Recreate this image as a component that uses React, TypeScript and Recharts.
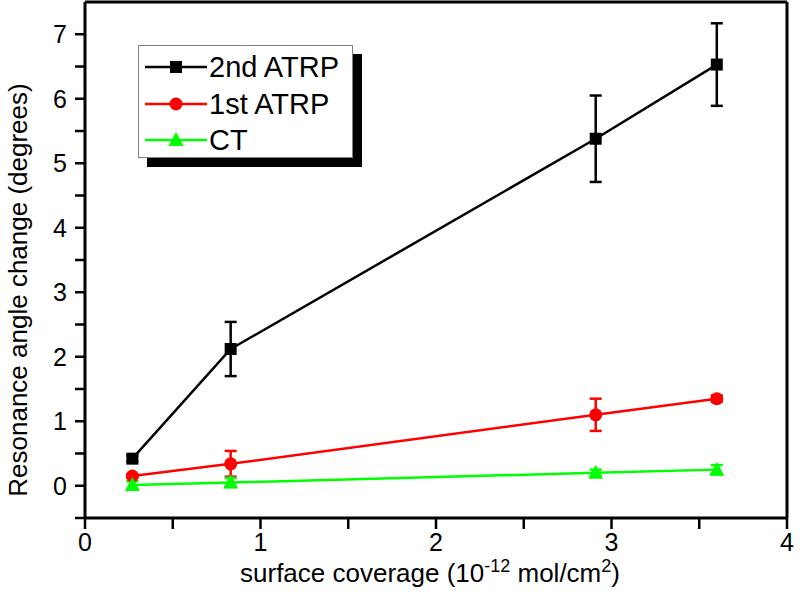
import React from "react";
import {
  LineChart,
  Line,
  XAxis,
  YAxis,
  ErrorBar,
  Legend,
  Label,
  ReferenceLine,
} from "recharts";

// values
const coverage = [0.27, 0.83, 2.91, 3.6];
const atrp2 = [0.42, 2.12, 5.38, 6.53];
const atrp2Err = [0.05, 0.42, 0.67, 0.64];
const atrp1 = [0.15, 0.34, 1.1, 1.35];
const atrp1Err = [0.03, 0.2, 0.25, 0.05];
const ct = [0.01, 0.05, 0.2, 0.25];
const ctErr = [0.06, 0.07, 0.05, 0.07];

const xTicks = [0, 0.5, 1, 1.5, 2, 2.5, 3, 3.5, 4];
const yTicks = [-0.5, 0, 0.5, 1, 1.5, 2, 2.5, 3, 3.5, 4, 4.5, 5, 5.5, 6, 6.5, 7];

const series = [
  { key: "atrp2", err: "atrp2Err", name: "2nd ATRP", color: "#000000", shape: "square" },
  { key: "atrp1", err: "atrp1Err", name: "1st ATRP", color: "#ff0000", shape: "circle" },
  { key: "ct", err: "ctErr", name: "CT", color: "#00ff00", shape: "triangle" },
];

const data = coverage.map((x, i) => ({
  x,
  atrp2: atrp2[i],
  atrp2Err: atrp2Err[i],
  atrp1: atrp1[i],
  atrp1Err: atrp1Err[i],
  ct: ct[i],
  ctErr: ctErr[i],
}));

const FONT = "'Liberation Sans', Arial, sans-serif";

function marker(shape: string, color: string, cx: number, cy: number, key?: string) {
  if (shape === "square") {
    return <rect key={key} x={cx - 6} y={cy - 6} width={12} height={12} fill={color} />;
  }
  if (shape === "circle") {
    return <circle key={key} cx={cx} cy={cy} r={6.5} fill={color} />;
  }
  return (
    <polygon
      key={key}
      points={`${cx},${cy - 8} ${cx + 7.5},${cy + 6} ${cx - 7.5},${cy + 6}`}
      fill={color}
    />
  );
}

const intLabel = (v: number) => (Number.isInteger(v) ? String(v) : "");

function LegendBox() {
  return (
    <div style={{ position: "relative", width: 215, height: 113 }}>
      <div
        style={{
          position: "absolute",
          left: 9,
          top: 9,
          width: 215,
          height: 113,
          background: "#000",
        }}
      />
      <div
        style={{
          position: "absolute",
          left: 0,
          top: 0,
          width: 213,
          height: 111,
          background: "#fff",
          border: "1px solid #808080",
        }}
      >
        {series.map((s, i) => (
          <div
            key={s.key}
            style={{
              position: "absolute",
              left: 6,
              top: 6 + i * 36.5,
              height: 30,
              display: "flex",
              alignItems: "center",
            }}
          >
            <svg width={62} height={30}>
              <line x1={0} y1={15} x2={62} y2={15} stroke={s.color} strokeWidth={2.5} />
              {marker(s.shape, s.color, 31, 15)}
            </svg>
            <span
              style={{
                fontFamily: FONT,
                fontSize: 29,
                color: "#000",
                marginLeft: 2,
                lineHeight: "30px",
                whiteSpace: "nowrap",
              }}
            >
              {s.name}
            </span>
          </div>
        ))}
      </div>
    </div>
  );
}

export default function App() {
  const tickStyle = { fontSize: 25, fill: "#000", fontFamily: FONT };
  return (
    <div style={{ position: "absolute", left: 0, top: 0, background: "#fff" }}>
      <LineChart
        width={800}
        height={592}
        data={data}
        margin={{ top: 2, right: 13, left: 0, bottom: 0 }}
      >
        <XAxis
          type="number"
          dataKey="x"
          domain={[0, 4]}
          ticks={xTicks}
          tickFormatter={intLabel}
          tick={tickStyle}
          tickSize={11}
          tickMargin={4}
          height={74}
          axisLine={{ stroke: "#000", strokeWidth: 3 }}
          tickLine={{ stroke: "#000", strokeWidth: 2.5 }}
          allowDataOverflow
        >
          <Label
            content={() => (
              <text x={430} y={582} textAnchor="middle" fontFamily={FONT} fontSize={26} fill="#000">
                surface coverage (10
                <tspan dy={-10} fontSize={18}>
                  -12
                </tspan>
                <tspan dy={10}> mol/cm</tspan>
                <tspan dy={-10} fontSize={18}>
                  2
                </tspan>
                <tspan dy={10}>)</tspan>
              </text>
            )}
          />
        </XAxis>
        <YAxis
          type="number"
          domain={[-0.5, 7.5]}
          ticks={yTicks}
          tickFormatter={intLabel}
          tick={tickStyle}
          tickSize={10}
          tickMargin={8}
          width={85}
          axisLine={{ stroke: "#000", strokeWidth: 3 }}
          tickLine={{ stroke: "#000", strokeWidth: 2.5 }}
          allowDataOverflow
        >
          <Label
            content={() => (
              <text
                x={27}
                y={290}
                transform="rotate(-90, 27, 290)"
                textAnchor="middle"
                fontFamily={FONT}
                fontSize={26}
                fill="#000"
              >
                Resonance angle change (degrees)
              </text>
            )}
          />
        </YAxis>
        <ReferenceLine x={4} stroke="#000" strokeWidth={3} />
        <ReferenceLine y={7.5} stroke="#000" strokeWidth={3} />
        <Legend
          layout="vertical"
          align="center"
          verticalAlign="middle"
          content={() => <LegendBox />}
          wrapperStyle={{ position: "absolute", left: 138, top: 45, width: 230, height: 125 }}
        />
        {series.map((s) => (
          <Line
            key={s.key}
            type="linear"
            dataKey={s.key}
            name={s.name}
            stroke={s.color}
            strokeWidth={2.5}
            isAnimationActive={false}
            dot={(p: any) => marker(s.shape, s.color, p.cx, p.cy, `${s.key}-${p.index}`)}
            activeDot={false}
          >
            <ErrorBar dataKey={s.err} width={6} strokeWidth={2.5} stroke={s.color} direction="y" />
          </Line>
        ))}
      </LineChart>
    </div>
  );
}
